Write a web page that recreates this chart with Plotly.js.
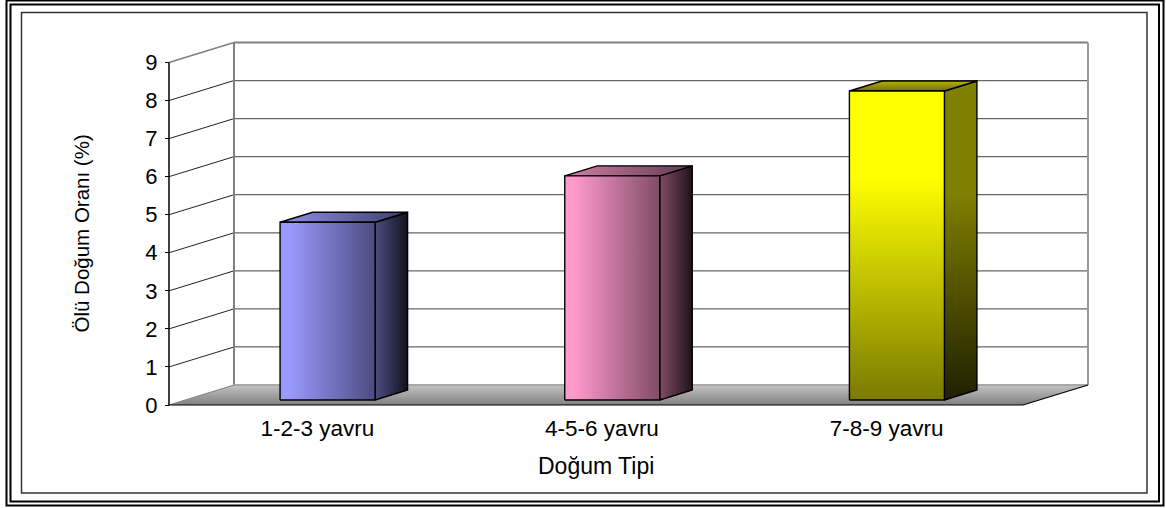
<!DOCTYPE html>
<html>
<head>
<meta charset="utf-8">
<script src="https://cdn.plot.ly/plotly-3.0.1.min.js"></script>
<style>html,body{margin:0;padding:0;background:#fff;}#chart{width:1166px;height:508px;}</style>
</head>
<body>
<div id="chart"></div>
<script>
// Stillbirth rate by litter size
const categories = ['1-2-3 yavru', '4-5-6 yavru', '7-8-9 yavru'];
const rates = [4.67, 5.89, 8.12];
const yTicks = [0, 1, 2, 3, 4, 5, 6, 7, 8, 9];
const xTitle = 'Doğum Tipi';
const yTitle = 'Ölü Doğum Oranı (%)';

// Page size and the pixel box of the front plane of the chart
const W = 1166, H = 508;
const FRONT_LEFT = 169, FRONT_RIGHT = 1023, FRONT_BOTTOM = 405, FRONT_TOP = 62.5;
const PAD_LEFT = 160, PAD_RIGHT = 1095, PAD_BOTTOM = 412, PAD_TOP = 36;

// Oblique projection of the depth axis, in axis units
const DEPTH_X = 0.2283;
const DEPTH_Y = 0.5256;
const BAR_HALF = 0.1669;
const BAR_NEAR = 0.25;
const BAR_FAR = 0.75;
const X_MIN = -0.5, X_MAX = 2.5;
const Y_MAX = 9;

const xPerPx = (X_MAX - X_MIN) / (FRONT_RIGHT - FRONT_LEFT);
const yPerPx = Y_MAX / (FRONT_BOTTOM - FRONT_TOP);

// Shading per bar face
const faceShades = [
  {
    dir: 'horizontal',
    front: [[0, '#9999ff'], [0.1, '#9999ff'], [1, '#4c4c80']],
    top: [[0, '#9090f0'], [1, '#3c3c66']],
    side: [[0, '#4c4c80'], [1, '#12121f']]
  },
  {
    dir: 'horizontal',
    front: [[0, '#ff99cc'], [0.1, '#ff99cc'], [1, '#804c66']],
    top: [[0, '#d080a8'], [1, '#603c50']],
    side: [[0, '#804c66'], [1, '#1f1219']]
  },
  {
    dir: 'vertical',
    front: [[0, '#7a7a00'], [0.72, '#ffff00'], [1, '#ffff00']],
    top: [[0, '#707000'], [1, '#b4b400']],
    side: [[0, '#1f1f00'], [0.65, '#808000'], [1, '#808000']]
  }
];

const project = (x, v, d) => [x + d * DEPTH_X, v + d * DEPTH_Y];

function polygon(points, colorscale, dir, lineColor, lineWidth) {
  return {
    type: 'scatter', mode: 'lines', hoverinfo: 'skip', showlegend: false,
    x: points.map(p => p[0]).concat(points[0][0]),
    y: points.map(p => p[1]).concat(points[0][1]),
    fill: 'toself',
    fillgradient: {type: dir, colorscale: colorscale},
    line: {color: lineColor, width: lineWidth}
  };
}

function polyline(xs, ys, color, width) {
  return {
    type: 'scatter', mode: 'lines', hoverinfo: 'skip', showlegend: false,
    x: xs, y: ys, line: {color: color, width: width}
  };
}

const traces = [];

// Wall grid: a slanted run along the side wall, then across the back wall
yTicks.slice(1).forEach(v => {
  const top = v === Y_MAX;
  const a = project(X_MIN, v, 0), b = project(X_MIN, v, 1), c = project(X_MAX, v, 1);
  traces.push(polyline([a[0], b[0]], [a[1], b[1]], top ? '#808080' : '#222222', top ? 1.5 : 1));
  traces.push(polyline([b[0], c[0]], [b[1], c[1]], top ? '#808080' : '#666666', top ? 2 : 1.2));
});
const wallLeft = [project(X_MIN, 0, 1), project(X_MIN, Y_MAX, 1)];
const wallRight = [project(X_MAX, 0, 1), project(X_MAX, Y_MAX, 1)];
traces.push(polyline(wallLeft.map(p => p[0]), wallLeft.map(p => p[1]), '#808080', 2));
traces.push(polyline(wallRight.map(p => p[0]), wallRight.map(p => p[1]), '#999999', 2));

// Floor
const floor = [project(X_MIN, 0, 0), project(X_MIN, 0, 1), project(X_MAX, 0, 1), project(X_MAX, 0, 0)];
traces.push(polygon(floor, [[0, '#808080'], [1, '#c4c4c4']], 'vertical', 'rgba(0,0,0,0)', 0));
traces.push(polyline([floor[0][0], floor[1][0]], [floor[0][1], floor[1][1]], '#808080', 1));
traces.push(polyline([floor[1][0], floor[2][0]], [floor[1][1], floor[2][1]], '#a8a8a8', 2));
traces.push(polyline([floor[2][0], floor[3][0], floor[0][0]], [floor[2][1], floor[3][1], floor[0][1]], '#000000', 1.2));

// Value axis line
traces.push(polyline([X_MIN, X_MIN], [0, Y_MAX], '#000000', 1.5));

// Bars: side, top and front faces
rates.forEach((rate, i) => {
  const l = i - BAR_HALF, r = i + BAR_HALF;
  const s = faceShades[i];
  const fl0 = project(l, 0, BAR_NEAR), fr0 = project(r, 0, BAR_NEAR);
  const fl1 = project(l, rate, BAR_NEAR), fr1 = project(r, rate, BAR_NEAR);
  const br0 = project(r, 0, BAR_FAR), br1 = project(r, rate, BAR_FAR), bl1 = project(l, rate, BAR_FAR);
  traces.push(polygon([fr0, br0, br1, fr1], s.side, s.dir, '#000000', 1.4));
  traces.push(polygon([fl1, fr1, br1, bl1], s.top, s.dir, '#000000', 1.4));
  traces.push(polygon([fl0, fr0, fr1, fl1], s.front, s.dir, '#000000', 1.4));
});

// Page frame, in page fractions
function frameRect(x0, y0, x1, y1, color, width) {
  return {
    type: 'rect', xref: 'paper', yref: 'paper', layer: 'above',
    x0: x0 / W, x1: x1 / W, y0: 1 - y0 / H, y1: 1 - y1 / H,
    line: {color: color, width: width}, fillcolor: 'rgba(0,0,0,0)'
  };
}

const font = 'Liberation Sans, Arial, sans-serif';
const layout = {
  width: W, height: H,
  margin: {l: 0, r: 0, t: 0, b: 0},
  paper_bgcolor: '#ffffff', plot_bgcolor: 'rgba(0,0,0,0)',
  showlegend: false,
  xaxis: {
    domain: [PAD_LEFT / W, PAD_RIGHT / W],
    range: [X_MIN - (FRONT_LEFT - PAD_LEFT) * xPerPx, X_MAX + (PAD_RIGHT - FRONT_RIGHT) * xPerPx],
    anchor: 'free', position: (H - FRONT_BOTTOM) / H,
    tickmode: 'array',
    tickvals: categories.map((c, i) => i + 0.021),
    ticktext: categories,
    ticks: '', ticklabelstandoff: 7,
    tickfont: {family: font, size: 22.5, color: '#000000'},
    showgrid: false, zeroline: false, showline: false, fixedrange: true
  },
  yaxis: {
    domain: [(H - PAD_BOTTOM) / H, (H - PAD_TOP) / H],
    range: [-(PAD_BOTTOM - FRONT_BOTTOM) * yPerPx, Y_MAX + (FRONT_TOP - PAD_TOP) * yPerPx],
    anchor: 'free', position: FRONT_LEFT / W,
    tickmode: 'array',
    tickvals: yTicks,
    ticktext: yTicks.map(String),
    ticks: 'outside', ticklen: 4, tickwidth: 1, tickcolor: '#000000', ticklabelstandoff: 3,
    tickfont: {family: font, size: 22, color: '#000000'},
    showgrid: false, zeroline: false, showline: false, fixedrange: true
  },
  annotations: [
    {
      text: xTitle, xref: 'paper', yref: 'paper', showarrow: false,
      x: 596 / W, y: 1 - 466 / H, xanchor: 'center', yanchor: 'middle',
      font: {family: font, size: 23, color: '#000000'}
    },
    {
      text: yTitle, xref: 'paper', yref: 'paper', showarrow: false, textangle: -90,
      x: 81 / W, y: 1 - 233.5 / H, xanchor: 'center', yanchor: 'middle',
      font: {family: font, size: 20.5, color: '#000000'}
    }
  ],
  shapes: [
    frameRect(6.5, 0.5, 1163.5, 505.5, '#000000', 2),
    frameRect(10.5, 4.5, 1159, 501.5, '#000000', 2),
    frameRect(21.5, 12.5, 1147, 493, '#333333', 1.5)
  ]
};

Plotly.newPlot('chart', traces, layout, {displayModeBar: false, staticPlot: true});
</script>
</body>
</html>
